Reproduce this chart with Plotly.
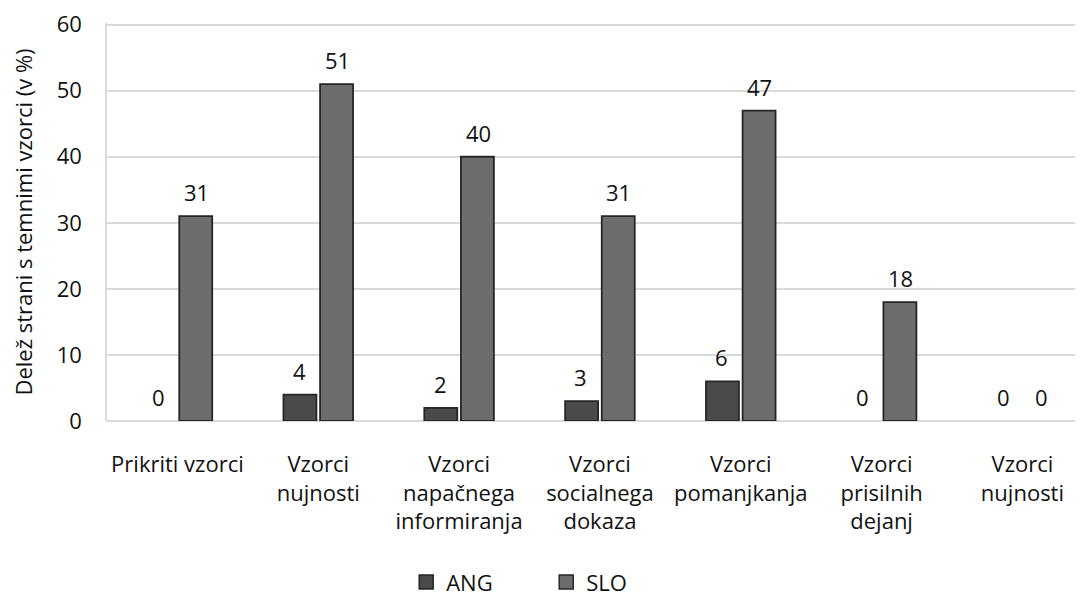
import plotly.graph_objects as go

categories = ["Prikriti vzorci", "Vzorci<br>nujnosti", "Vzorci<br>napačnega<br>informiranja",
              "Vzorci<br>socialnega<br>dokaza", "Vzorci<br>pomanjkanja", "Vzorci<br>prisilnih<br>dejanj",
              "Vzorci<br>nujnosti"]
ang = [0, 4, 2, 3, 6, 0, 0]
slo = [31, 51, 40, 31, 47, 18, 0]
y_ticks = [0, 10, 20, 30, 40, 50, 60]
x_idx = list(range(len(categories)))

FONT = "Open Sans"
FS = 22
ANG_C, SLO_C, EDGE = "#4a4a4a", "#6d6d6d", "#262626"
fig = go.Figure()
fig.add_trace(go.Bar(name="ANG", x=x_idx, y=ang, showlegend=False,
                     marker=dict(color=ANG_C, line=dict(color=EDGE, width=[0 if v == 0 else 1.8 for v in ang]))))
fig.add_trace(go.Bar(name="SLO", x=x_idx, y=slo, showlegend=False,
                     marker=dict(color=SLO_C, line=dict(color=EDGE, width=[0 if v == 0 else 1.8 for v in slo]))))
# legend entries with larger square swatches
for nm, c in (("ANG", ANG_C), ("SLO", SLO_C)):
    fig.add_trace(go.Scatter(name=nm, x=[None], y=[None], mode="markers",
                             marker=dict(symbol="square", size=14, color=c, line=dict(color=EDGE, width=1.5))))

for i in x_idx:
    for vals, sh in ((ang, -19), (slo, 19)):
        fig.add_annotation(x=i, y=vals[i], text=str(vals[i]), showarrow=False, xshift=sh, yshift=24,
                           font=dict(family=FONT, size=FS, color="#111111"))

fig.update_layout(
    width=1075, height=598,
    margin=dict(l=99, r=0, t=11, b=185),
    paper_bgcolor="white", plot_bgcolor="white",
    barmode="group", bargap=0.48, bargroupgap=0.1,
    font=dict(family=FONT, size=FS, color="#111111"),
    showlegend=True,
    legend=dict(orientation="h", x=0.45, xanchor="center", y=-0.405, yanchor="middle",
                font=dict(family=FONT, size=FS, color="#111111"), itemwidth=30,
                entrywidth=95),
    xaxis=dict(tickvals=x_idx, ticktext=categories, range=[-0.5, 6.43], showgrid=False,
               showline=False, ticks="", ticklabelstandoff=28, tickfont=dict(size=FS)),
    yaxis=dict(range=[0, 60.25], tickvals=y_ticks, showgrid=True, gridcolor="#d9d9d9",
               gridwidth=1.5, showline=True, linecolor="#d9d9d9", linewidth=1.5, zeroline=True,
               zerolinecolor="#d9d9d9", zerolinewidth=1.5, ticks="", tickfont=dict(size=FS),
               ticklabelstandoff=19, ticklabeloverflow="allow",
               title=dict(text="Delež strani s temnimi vzorci (v %)", standoff=19, font=dict(size=FS))),
)
fig.write_html("out.html")
